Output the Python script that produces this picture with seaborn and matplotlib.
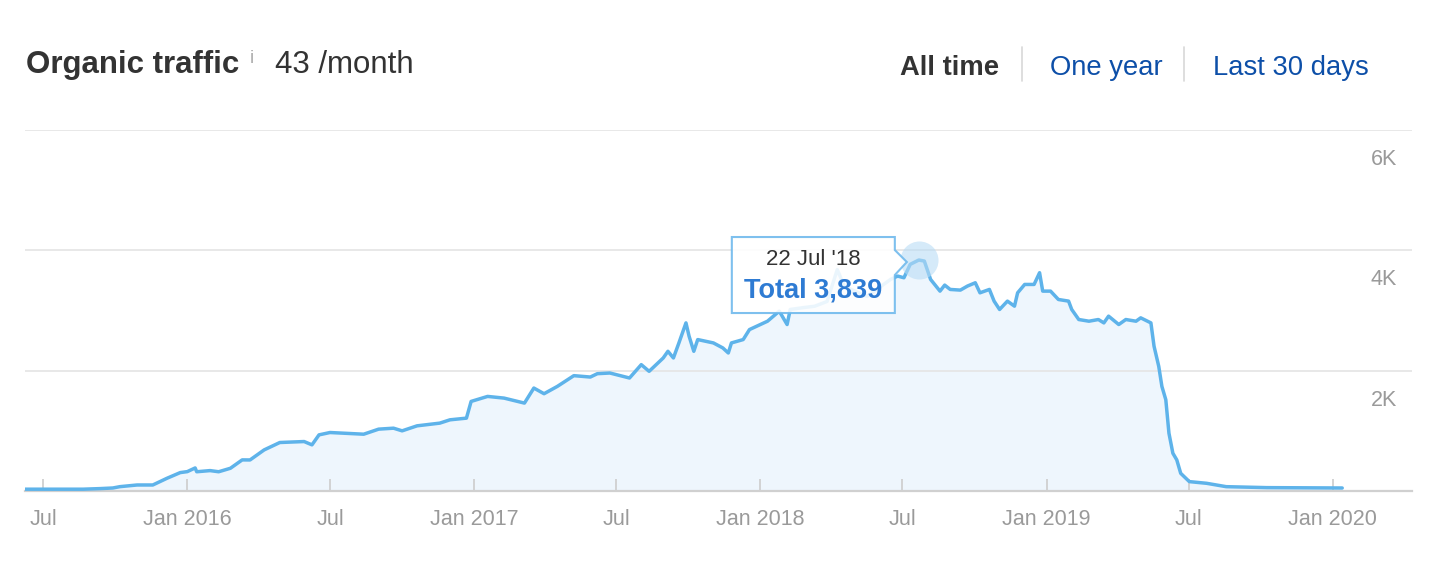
import matplotlib
matplotlib.use("Agg")
import matplotlib.pyplot as plt
import matplotlib.transforms as mtransforms
from matplotlib.patches import Polygon
from matplotlib.lines import Line2D
import pandas as pd
import seaborn as sns

# --- data ---
dates = [
    "2015-06-08", "2015-08-21", "2015-09-12", "2015-09-28", "2015-10-07", "2015-10-29",
    "2015-11-18", "2015-12-06", "2015-12-23", "2016-01-01", "2016-01-11", "2016-01-13",
    "2016-01-30", "2016-02-10", "2016-02-25", "2016-03-11", "2016-03-21", "2016-04-08",
    "2016-04-28", "2016-05-29", "2016-06-08", "2016-06-17", "2016-07-01", "2016-08-13",
    "2016-09-01", "2016-09-20", "2016-10-01", "2016-10-20", "2016-11-18", "2016-12-01",
    "2016-12-22", "2016-12-28", "2017-01-18", "2017-02-08", "2017-03-06", "2017-03-18",
    "2017-03-31", "2017-04-17", "2017-05-08", "2017-05-29", "2017-06-07", "2017-06-23",
    "2017-07-18", "2017-08-02", "2017-08-12", "2017-08-30", "2017-09-05", "2017-09-12",
    "2017-09-19", "2017-09-28", "2017-10-02", "2017-10-08", "2017-10-13", "2017-11-02",
    "2017-11-14", "2017-11-21", "2017-11-25", "2017-12-10", "2017-12-18", "2018-01-10",
    "2018-01-25", "2018-02-04", "2018-02-08", "2018-02-26", "2018-03-11", "2018-03-27",
    "2018-04-09", "2018-04-18", "2018-05-17", "2018-06-16", "2018-06-25", "2018-07-03",
    "2018-07-11", "2018-07-22", "2018-07-29", "2018-08-06", "2018-08-18", "2018-08-24",
    "2018-08-31", "2018-09-13", "2018-09-22", "2018-10-02", "2018-10-08", "2018-10-20",
    "2018-10-26", "2018-11-02", "2018-11-12", "2018-11-21", "2018-11-25", "2018-12-04",
    "2018-12-16", "2018-12-23", "2018-12-27", "2019-01-06", "2019-01-16", "2019-01-29",
    "2019-02-02", "2019-02-11", "2019-02-24", "2019-03-08", "2019-03-15", "2019-03-21",
    "2019-04-03", "2019-04-12", "2019-04-25", "2019-05-01", "2019-05-14", "2019-05-18",
    "2019-05-24", "2019-05-28", "2019-06-02", "2019-06-06", "2019-06-11", "2019-06-16",
    "2019-06-21", "2019-07-02", "2019-07-24", "2019-08-18", "2019-10-09", "2020-01-13",
]
traffic = [
    30, 30, 40, 50, 72, 100,
    100, 211, 306, 322, 383, 320,
    339, 320, 378, 517, 516, 683,
    806, 822, 767, 933, 972, 944,
    1028, 1044, 1000, 1083, 1128, 1183,
    1211, 1489, 1572, 1544, 1461, 1711,
    1617, 1739, 1917, 1894, 1950, 1961,
    1878, 2100, 1989, 2211, 2322, 2211,
    2461, 2794, 2572, 2322, 2517, 2461,
    2378, 2294, 2461, 2517, 2683, 2822,
    2989, 2767, 3017, 3050, 3070, 3150,
    3680, 3400, 3233, 3517, 3572, 3544,
    3767, 3839, 3822, 3517, 3322, 3422,
    3350, 3339, 3406, 3461, 3294, 3350,
    3156, 3017, 3156, 3072, 3294, 3433,
    3433, 3628, 3322, 3322, 3183, 3156,
    3017, 2850, 2822, 2850, 2794, 2906,
    2767, 2850, 2822, 2878, 2794, 2406,
    2072, 1739, 1517, 961, 628, 517,
    294, 156, 128, 72, 56, 50,
]

tick_dates = ["2015-07-01", "2016-01-01", "2016-07-01", "2017-01-01", "2017-07-01",
              "2018-01-01", "2018-07-01", "2019-01-01", "2019-07-01", "2020-01-01"]
tick_labels = ["Jul", "Jan 2016", "Jul", "Jan 2017", "Jul",
               "Jan 2018", "Jul", "Jan 2019", "Jul", "Jan 2020"]
y_ticks = [2000, 4000, 6000]
y_tick_labels = ["2K", "4K", "6K"]

tooltip_date = "2018-07-22"
tooltip_value = 3839
tooltip_label = "22 Jul '18"

periods = ["All time", "One year", "Last 30 days"]

df = pd.DataFrame({"date": pd.to_datetime(dates), "traffic": traffic})

# --- style ---
sns.set_theme(style="white")
plt.rcParams["font.family"] = ["Liberation Sans", "DejaVu Sans"]

LINE = "#5eb3ea"
FILL = "#eef6fd"
GRAY = "#9a9a9a"
DARK = "#333333"
BLUE = "#0d4fa8"

W, H = 1439, 561
fig = plt.figure(figsize=(W / 100, H / 100), dpi=100)
ax = fig.add_axes([25 / W, 1 - 491 / H, (1412 - 25) / W, 361 / H])

# fill under the grid, line above it
ax.fill_between(df["date"], df["traffic"], color=FILL, zorder=0.5, linewidth=0)
sns.lineplot(data=df, x="date", y="traffic", ax=ax, color=LINE, linewidth=2.5, zorder=3)

ax.set_xlim(pd.Timestamp("2015-06-08"), pd.Timestamp("2020-04-11"))
ax.set_ylim(0, 6000)
ax.set_xlabel("")
ax.set_ylabel("")

for side in ["top", "left", "right"]:
    ax.spines[side].set_visible(False)
ax.spines["bottom"].set_color("#d0d0d0")
ax.spines["bottom"].set_linewidth(1.6)

ax.set_yticks(y_ticks)
ax.set_yticklabels([])
ax.tick_params(axis="y", length=0)
ax.yaxis.grid(True, color="#e6e6e6", linewidth=1.3)
ax.set_axisbelow("line")

ax.set_xticks(pd.to_datetime(tick_dates))
ax.set_xticklabels(tick_labels)
ax.tick_params(axis="x", bottom=True, direction="in", length=9, width=1.3,
               color="#d0d0d0", labelcolor=GRAY, labelsize=15.5, pad=13)

for v, lab in zip(y_ticks, y_tick_labels):
    ax.annotate(lab, xy=(1, v), xycoords=("axes fraction", "data"),
                xytext=(-15, -35), textcoords="offset pixels",
                ha="right", va="baseline", fontsize=15.5, color=GRAY,
                annotation_clip=False)

# --- header ---
fig.text(26 / W, 1 - 73 / H, "Organic traffic", fontsize=22.5, fontweight="bold",
         color=DARK, va="baseline")
fig.text(250 / W, 1 - 63 / H, "i", fontsize=13, color="#aaaaaa", va="baseline")
fig.text(275 / W, 1 - 73 / H, "43 /month", fontsize=22.5, color=DARK, va="baseline")

period_x = [900, 1050, 1213]
for i, (px, lab) in enumerate(zip(period_x, periods)):
    fig.text(px / W, 1 - 75 / H, lab, fontsize=19.7, va="baseline",
             fontweight="bold" if i == 0 else "normal",
             color=DARK if i == 0 else BLUE)
for sx in [1022, 1184]:
    fig.add_artist(Line2D([sx / W, sx / W], [1 - 47 / H, 1 - 81 / H],
                          transform=fig.transFigure, color="#d8d8d8", linewidth=1.2))

# --- tooltip on the peak ---
tdate = pd.Timestamp(tooltip_date)
ax.scatter([tdate], [tooltip_value], s=750, color="#b9dcf5", alpha=0.6,
           zorder=4, linewidths=0)
px, py = ax.transData.transform((matplotlib.dates.date2num(tdate), tooltip_value))
L, R, T, B = px - 187, px - 24, py + 23, py - 53
verts = [(L, T), (R, T), (R, py + 10), (px - 12, py - 2), (R, py - 15), (R, B), (L, B)]
ident = mtransforms.IdentityTransform()
ax.add_artist(Polygon(verts, closed=True, transform=ident, facecolor="white",
                      alpha=0.88, edgecolor="#6cb8ec", linewidth=1.5, zorder=5,
                      clip_on=False))
ax.text(px - 106, py + 1, tooltip_label, transform=ident, ha="center", va="center",
        fontsize=16, color=DARK, zorder=6)
ax.text(px - 106, py - 30, f"Total {tooltip_value:,}", transform=ident, ha="center",
        va="center", fontsize=19.5, fontweight="bold", color="#2e7bd3", zorder=6)

fig.savefig("out.png", dpi=100)
